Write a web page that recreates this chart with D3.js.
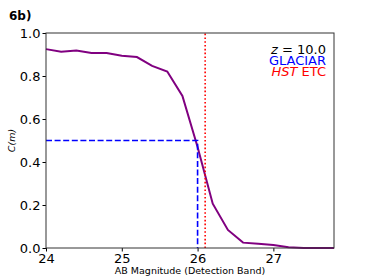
<!DOCTYPE html>
<html>
<head>
<meta charset="utf-8">
<script src="https://cdn.jsdelivr.net/npm/d3@7"></script>
<style>
  body { margin: 0; background: white; }
  svg text { font-family: "DejaVu Sans", sans-serif; }
</style>
</head>
<body>
<div id="chart"></div>
<script>
const WIDTH = 371
const HEIGHT = 279
const MARGIN = { left: 46, right: 37, top: 33, bottom: 31 }

// magnitudes et completude
const MAGS = [24.0, 24.2, 24.4, 24.6, 24.8, 25.0, 25.2, 25.4, 25.6, 25.8, 26.0, 26.2, 26.4, 26.6, 26.8, 27.0, 27.2, 27.4, 27.6, 27.8]
const COMPLETENESS = [0.925, 0.913, 0.919, 0.907, 0.907, 0.894, 0.888, 0.847, 0.821, 0.707, 0.47, 0.206, 0.084, 0.025, 0.02, 0.014, 0.004, 0.0, 0.0, 0.0]
const X_TICKS = [24, 25, 26, 27]
const Y_TICKS = [0.0, 0.2, 0.4, 0.6, 0.8, 1.0]
const GLACIAR_MAG = 26.0 // C = 0.5
const GLACIAR_C = 0.5
const ETC_MAG = 26.1

const svg = d3.select('#chart').append('svg').attr('width', WIDTH).attr('height', HEIGHT)

const x = d3.scaleLinear().domain([24, 27.8]).range([MARGIN.left, WIDTH - MARGIN.right])
const y = d3.scaleLinear().domain([0, 1]).range([HEIGHT - MARGIN.bottom, MARGIN.top])

// courbe
svg.append('path')
    .datum(MAGS.map((m, i) => [m, COMPLETENESS[i]]))
    .attr('fill', 'none')
    .attr('stroke', '#800080')
    .attr('stroke-width', 2)
    .attr('d', d3.line().x(d => x(d[0])).y(d => y(d[1])))

// GLACIAR 50%
svg.append('path')
    .attr('fill', 'none')
    .attr('stroke', '#0000ff')
    .attr('stroke-width', 1.6)
    .attr('stroke-dasharray', '6,2.6')
    .attr('d', `M${x(24)},${y(GLACIAR_C)}H${x(GLACIAR_MAG)}V${y(0)}`)

// HST ETC
svg.append('line')
    .attr('x1', x(ETC_MAG)).attr('x2', x(ETC_MAG))
    .attr('y1', y(0)).attr('y2', y(1))
    .attr('stroke', '#ff0000')
    .attr('stroke-width', 1.6)
    .attr('stroke-dasharray', '1.6,2.2')

// axes
const axisX = d3.axisBottom(x).tickValues(X_TICKS).tickFormat(d3.format('d')).tickSize(3.5).tickPadding(2)
const axisY = d3.axisLeft(y).tickValues(Y_TICKS).tickFormat(d3.format('.1f')).tickSize(3.5).tickPadding(2)

svg.append('g')
    .attr('transform', `translate(0, ${HEIGHT - MARGIN.bottom})`)
    .call(axisX)
    .call(g => g.select('.domain').remove())
    .attr('font-size', 13)
    .attr('font-family', 'DejaVu Sans')
    .attr('color', 'black')

svg.append('g')
    .attr('transform', `translate(${MARGIN.left}, 0)`)
    .call(axisY)
    .call(g => g.select('.domain').remove())
    .attr('font-size', 13)
    .attr('font-family', 'DejaVu Sans')
    .attr('color', 'black')

// cadre
svg.append('rect')
    .attr('x', x(24)).attr('y', y(1))
    .attr('width', x(27.8) - x(24)).attr('height', y(0) - y(1))
    .attr('fill', 'none')
    .attr('stroke', '#333')
    .attr('stroke-width', 1)

// textes
svg.append('text')
    .attr('x', 9).attr('y', 20)
    .attr('font-size', 12).attr('font-weight', 'bold')
    .text('6b)')

svg.append('text')
    .attr('x', (x(24) + x(27.8)) / 2).attr('y', 274)
    .attr('text-anchor', 'middle')
    .attr('font-size', 9.5)
    .text('AB Magnitude (Detection Band)')

svg.append('text')
    .attr('transform', `translate(15, ${(y(0) + y(1)) / 2}) rotate(-90)`)
    .attr('text-anchor', 'middle')
    .attr('font-size', 9.5)
    .attr('font-style', 'italic')
    .text('C(m)')

const legend = svg.append('g').attr('text-anchor', 'end').attr('font-size', 13)
legend.append('text').attr('x', 326).attr('y', 54)
    .html('<tspan font-style="italic">z</tspan> = 10.0')
legend.append('text').attr('x', 326).attr('y', 65).attr('fill', '#0000ff').text('GLACIAR')
legend.append('text').attr('x', 326).attr('y', 76).attr('fill', '#ff0000')
    .html('<tspan font-style="italic">HST</tspan> ETC')
</script>
</body>
</html>
